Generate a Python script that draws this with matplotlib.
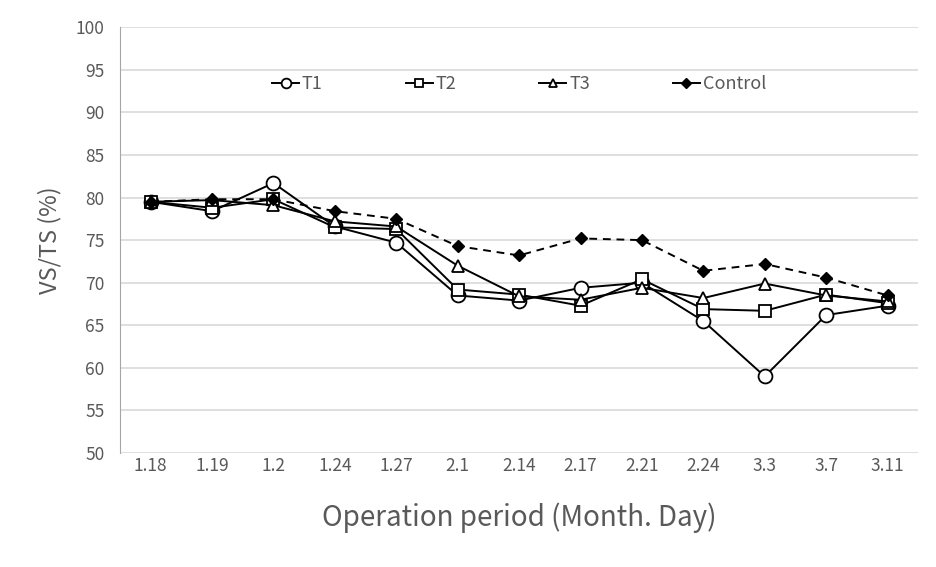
import matplotlib
matplotlib.use("Agg")
import matplotlib.pyplot as plt
from matplotlib.lines import Line2D

categories = ["1.18", "1.19", "1.2", "1.24", "1.27", "2.1", "2.14", "2.17", "2.21", "2.24", "3.3", "3.7", "3.11"]
t1 = [79.5, 78.4, 81.7, 76.6, 74.7, 68.5, 67.9, 69.4, 70.0, 65.5, 59.0, 66.2, 67.3]
t2 = [79.5, 78.8, 79.8, 76.5, 76.3, 69.2, 68.6, 67.3, 70.4, 66.9, 66.7, 68.6, 67.6]
t3 = [79.5, 79.7, 79.1, 77.2, 76.6, 72.0, 68.4, 68.0, 69.4, 68.2, 69.9, 68.5, 67.8]
control = [79.5, 79.8, 79.8, 78.4, 77.5, 74.3, 73.2, 75.2, 75.0, 71.4, 72.2, 70.6, 68.5]
yticks = list(range(50, 101, 5))

txt = "#595959"
plt.rcParams['font.family'] = ['Noto Sans CJK KR', 'DejaVu Sans']

fig = plt.figure(figsize=(9.37, 5.67), dpi=100)
ax = fig.add_axes([0.128, 0.201, 0.852, 0.751])
x = list(range(len(categories)))

ax.plot(x, t1, color='black', lw=1.4, marker='o', ms=10, mfc='white', mec='black', mew=1.3, label='T1', zorder=3)
ax.plot(x, t2, color='black', lw=1.4, marker='s', ms=8, mfc='white', mec='black', mew=1.3, label='T2', zorder=3)
ax.plot(x, t3, color='black', lw=1.4, marker='^', ms=8, mfc='white', mec='black', mew=1.3, label='T3', zorder=3)
ax.plot(x, control, color='black', lw=1.4, ls=(0, (4, 3)), marker='D', ms=6.5, mfc='black', mec='black', label='Control', zorder=4)

ax.set_xlim(-0.5, len(categories) - 0.5)
ax.set_ylim(50, 100)
ax.set_yticks(yticks)
ax.set_xticks(x)
ax.set_xticklabels(categories)
ax.yaxis.grid(True, color='#d9d9d9', lw=1.2)
ax.set_axisbelow(True)
for s in ['top', 'right', 'bottom']:
    ax.spines[s].set_visible(False)
ax.spines['left'].set_color('#a6a6a6')
ax.tick_params(axis='both', length=0, colors=txt, labelsize=12.5)
ax.tick_params(axis='y', pad=11)
ax.tick_params(axis='x', pad=3)
ax.set_ylabel("VS/TS (%)", color=txt, fontsize=17, labelpad=10)
ax.set_xlabel("Operation period (Month. Day)", color=txt, fontsize=20, labelpad=20)

handles = [
    Line2D([], [], color='black', lw=1.4, marker='o', ms=7, mfc='white', mec='black', mew=1.3),
    Line2D([], [], color='black', lw=1.4, marker='s', ms=6, mfc='white', mec='black', mew=1.3),
    Line2D([], [], color='black', lw=1.4, marker='^', ms=6, mfc='white', mec='black', mew=1.3),
    Line2D([], [], color='black', lw=1.4, marker='D', ms=5, mfc='black', mec='black'),
]
leg = ax.legend(handles, ['T1', 'T2', 'T3', 'Control'], loc='center', bbox_to_anchor=(0.5, 0.867),
                ncol=4, frameon=False, handlelength=1.5, handletextpad=0.15, columnspacing=4.6,
                fontsize=13)
for t in leg.get_texts():
    t.set_color(txt)

fig.savefig("out.png", dpi=100)
